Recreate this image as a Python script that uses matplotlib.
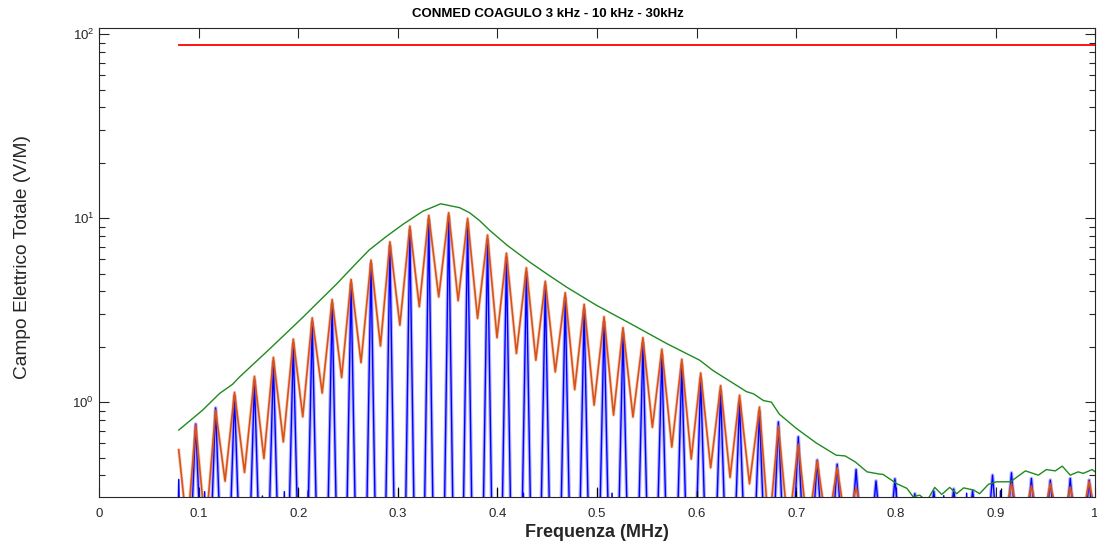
import numpy as np
import matplotlib
matplotlib.use("Agg")
import matplotlib.pyplot as plt
from matplotlib.ticker import LogLocator, FixedLocator

plt.rcParams['font.family'] = ['Liberation Sans', 'DejaVu Sans']
plt.rcParams['mathtext.default'] = 'regular'

# peak (harmonic) frequencies in MHz
peak_f = [0.097, 0.117, 0.136, 0.156, 0.175, 0.195, 0.214, 0.234, 0.253, 0.273,
          0.292, 0.312, 0.331, 0.351, 0.370, 0.390, 0.409, 0.429, 0.448, 0.468,
          0.487, 0.507, 0.526, 0.546, 0.565, 0.585, 0.604, 0.624, 0.643, 0.663,
          0.682, 0.702, 0.721, 0.741, 0.760, 0.780, 0.799, 0.819, 0.838, 0.858,
          0.877, 0.897, 0.916, 0.936, 0.955, 0.975, 0.994]

# orange trace: peak values and the minimum between consecutive peaks
orange_peak = [0.75, 0.905, 1.13, 1.38, 1.75, 2.2, 2.87, 3.61, 4.64, 5.91,
               7.43, 9.05, 10.35, 10.7, 9.96, 8.09, 6.45, 5.37, 4.54, 3.93,
               3.40, 2.91, 2.54, 2.24, 1.94, 1.71, 1.44, 1.23, 1.09, 0.94,
               0.74, 0.59, 0.48, 0.44, 0.345, 0.2, 0.2, 0.2, 0.2, 0.2,
               0.2, 0.2, 0.36, 0.35, 0.36, 0.345, 0.37]
orange_trough = [0.2, 0.372, 0.415, 0.494, 0.608, 0.832, 1.12, 1.36, 1.64, 2.02,
                 2.62, 3.30, 3.73, 3.56, 2.85, 2.24, 1.84, 1.69, 1.46, 1.17,
                 0.963, 0.85, 0.83, 0.73, 0.57, 0.49, 0.44, 0.39, 0.36, 0.2,
                 0.2, 0.2, 0.2, 0.2, 0.2, 0.2, 0.2, 0.2, 0.2, 0.2,
                 0.2, 0.2, 0.2, 0.2, 0.2, 0.2]
orange_start = (0.080, 0.55)
orange_end = (1.0, 0.25)

# blue trace: spike heights at each harmonic
blue_peak = [0.76, 0.93, 1.08, 1.31, 1.66, 2.08, 2.72, 3.42, 4.4, 5.65,
             7.05, 8.6, 9.8, 10.2, 9.4, 7.6, 6.1, 5.05, 4.28, 3.68,
             3.17, 2.72, 2.37, 2.09, 1.81, 1.59, 1.35, 1.15, 1.01, 0.89,
             0.78, 0.648, 0.484, 0.46, 0.43, 0.373, 0.383, 0.318, 0.328, 0.337,
             0.33, 0.401, 0.413, 0.385, 0.377, 0.385, 0.377]
blue_blip_f = [0.080, 0.106, 0.164, 0.186, 0.210, 0.426, 0.515, 0.848, 0.871, 0.905]
blue_blip_v = [0.38, 0.326, 0.309, 0.326, 0.33, 0.32, 0.32, 0.31, 0.32, 0.33]

# black trace: short marks
black_f = [0.2, 0.3, 0.4, 0.5, 0.6, 0.7, 0.905]
black_v = [0.34, 0.34, 0.34, 0.34, 0.33, 0.33, 0.34]

# green envelope (max hold)
green_f = [0.080, 0.104, 0.121, 0.134, 0.141, 0.171, 0.204, 0.221, 0.238, 0.258,
           0.271, 0.288, 0.305, 0.325, 0.343, 0.362, 0.372, 0.382, 0.392, 0.410,
           0.432, 0.449, 0.469, 0.499, 0.533, 0.570, 0.603, 0.616, 0.650, 0.657,
           0.667, 0.675, 0.683, 0.700, 0.720, 0.740, 0.749, 0.759, 0.771, 0.784,
           0.787, 0.801, 0.811, 0.817, 0.824, 0.831, 0.839, 0.846, 0.854, 0.861,
           0.868, 0.878, 0.884, 0.893, 0.901, 0.915, 0.930, 0.943, 0.951, 0.960,
           0.967, 0.975, 0.983, 0.988, 0.997, 1.000]
green_v = [0.705, 0.905, 1.115, 1.25, 1.37, 1.94, 2.87, 3.54, 4.36, 5.67,
           6.70, 7.92, 9.25, 10.9, 11.97, 11.4, 10.7, 9.7, 8.6, 7.1,
           5.79, 5.0, 4.23, 3.37, 2.68, 2.08, 1.69, 1.49, 1.14, 1.11,
           1.02, 1.0, 0.86, 0.72, 0.60, 0.515, 0.51, 0.474, 0.418, 0.406,
           0.405, 0.36, 0.34, 0.307, 0.312, 0.29, 0.344, 0.315, 0.344, 0.318,
           0.342, 0.333, 0.318, 0.358, 0.369, 0.369, 0.423, 0.401, 0.43, 0.423,
           0.449, 0.401, 0.418, 0.41, 0.43, 0.418]

# limit line
limit_f = [0.080, 1.0]
limit_v = [87, 87]

floor = 0.2
hw = 0.0045

# build orange polyline: start, trough, peak, trough, peak...
o_x = [orange_start[0], (orange_start[0] + peak_f[0]) / 2]
o_y = [orange_start[1], floor]
for i in range(len(peak_f)):
    o_x.append(peak_f[i])
    o_y.append(orange_peak[i])
    if i < len(orange_trough):
        o_x.append((peak_f[i] + peak_f[i + 1]) / 2)
        o_y.append(orange_trough[i])
o_x.append(orange_end[0])
o_y.append(orange_end[1])

# blue spikes
b_x, b_y = [], []
for f, v in zip(peak_f, blue_peak):
    b_x += [f - hw, f, f + hw]
    b_y += [floor, v, floor]

fig = plt.figure(figsize=(10.97, 5.46), dpi=100)
ax = fig.add_axes([0.0903, 0.0897, 0.9080, 0.8590])

# light halo + core for the blue spikes
ax.plot(b_x, b_y, color='#0000ff', lw=2.6, alpha=0.3)
ax.plot(b_x, b_y, color='#0000ff', lw=1.0)
for f, v in zip(blue_blip_f, blue_blip_v):
    ax.plot([f - 0.001, f, f + 0.001], [floor, v, floor], color='#0000ff', lw=1.1)
ax.vlines(black_f, floor, black_v, color='black', lw=0.9)
ax.plot(o_x, o_y, color='#d95319', lw=2.4, alpha=0.25, solid_joinstyle='round')
ax.plot(o_x, o_y, color='#d95319', lw=1.2, solid_joinstyle='round')
ax.plot(green_f, green_v, color='#1f8a1f', lw=1.0)
ax.plot(limit_f, limit_v, color='#ff0000', lw=1.3)

ax.set_yscale('log')
ax.set_xlim(0, 1)
ax.set_ylim(0.305, 108)
ax.xaxis.set_major_locator(FixedLocator(np.linspace(0, 1, 11)))
ax.set_xticklabels(['0', '0.1', '0.2', '0.3', '0.4', '0.5', '0.6', '0.7', '0.8', '0.9', '1'])
ax.yaxis.set_major_locator(LogLocator(base=10, numticks=10))
ax.yaxis.set_minor_locator(LogLocator(base=10, subs=np.arange(2, 10), numticks=10))

axcol = '#262626'
for s in ax.spines.values():
    s.set_color(axcol)
    s.set_linewidth(0.8)
ax.tick_params(which='both', direction='in', top=True, right=True, colors=axcol,
               labelsize=9.5, width=0.8)
ax.tick_params(which='major', length=7)
ax.tick_params(which='minor', length=4)
ax.tick_params(axis='x', pad=8)

ax.set_xlabel('Frequenza (MHz)', fontsize=13, fontweight='bold', color=axcol, labelpad=3)
ax.set_ylabel('Campo Elettrico Totale (V/M)', fontsize=13.8, color=axcol)
ax.yaxis.set_label_coords(-0.068, 0.512)
fig.text(0.499, 0.975, 'CONMED COAGULO 3 kHz - 10 kHz - 30kHz', ha='center', va='center',
         fontsize=9.5, fontweight='bold', color='black')

fig.savefig('out.png', dpi=100)
